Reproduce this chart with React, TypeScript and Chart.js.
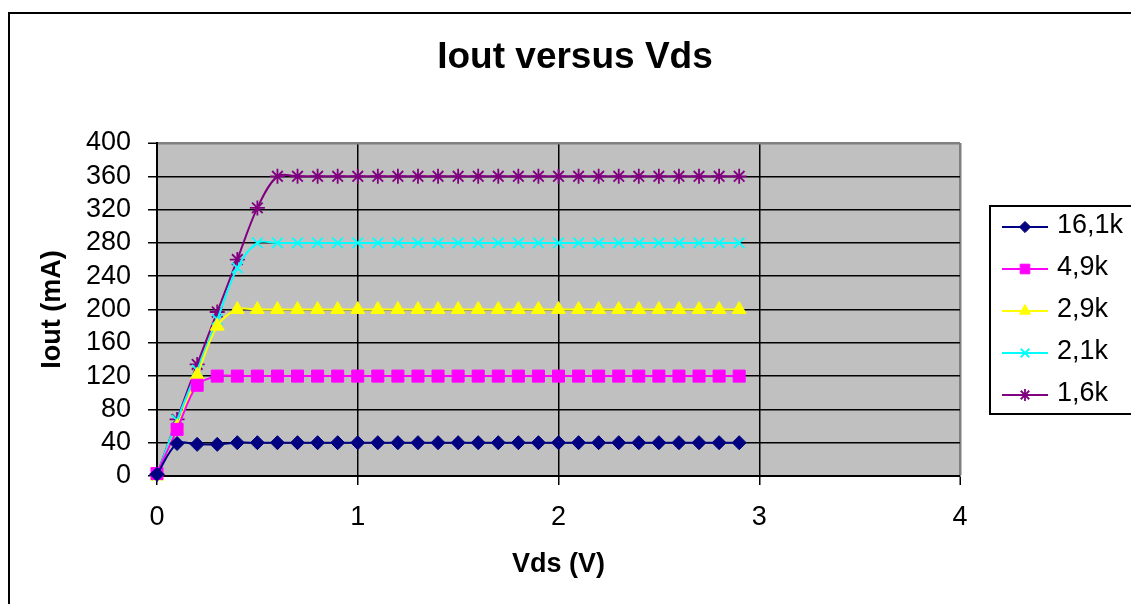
import React, { useEffect, useRef } from 'react';
import { Chart, registerables } from 'chart.js';
import { drawPoint } from 'chart.js/helpers';

Chart.register(...registerables);

const FONT = "'Liberation Sans', Arial, Helvetica, sans-serif";

// ---- data ----
const chartTitle = 'Iout versus Vds';
const vds = [0, 0.1, 0.2, 0.3, 0.4, 0.5, 0.6, 0.7, 0.8, 0.9, 1.0, 1.1, 1.2, 1.3, 1.4, 1.5, 1.6, 1.7, 1.8, 1.9, 2.0, 2.1, 2.2, 2.3, 2.4, 2.5, 2.6, 2.7, 2.8, 2.9];
const seriesLabels = ['16,1k', '4,9k', '2,9k', '2,1k', '1,6k'];
const iout16_1k = [2, 39, 38, 38, 40, 40, 40, 40, 40, 40, 40, 40, 40, 40, 40, 40, 40, 40, 40, 40, 40, 40, 40, 40, 40, 40, 40, 40, 40, 40];
const iout4_9k = [3, 56, 109, 120, 120, 120, 120, 120, 120, 120, 120, 120, 120, 120, 120, 120, 120, 120, 120, 120, 120, 120, 120, 120, 120, 120, 120, 120, 120, 120];
const iout2_9k = [0, 59, 121, 180, 200, 200, 200, 200, 200, 200, 200, 200, 200, 200, 200, 200, 200, 200, 200, 200, 200, 200, 200, 200, 200, 200, 200, 200, 200, 200];
const iout2_1k = [1, 67, 127, 188, 250, 280, 280, 280, 280, 280, 280, 280, 280, 280, 280, 280, 280, 280, 280, 280, 280, 280, 280, 280, 280, 280, 280, 280, 280, 280];
const iout1_6k = [2, 68, 134, 197, 260, 322, 360, 360, 360, 360, 360, 360, 360, 360, 360, 360, 360, 360, 360, 360, 360, 360, 360, 360, 360, 360, 360, 360, 360, 360];
const seriesValues = [iout16_1k, iout4_9k, iout2_9k, iout2_1k, iout1_6k];
const xTicks = [0, 1, 2, 3, 4];
const yTicks = [0, 40, 80, 120, 160, 200, 240, 280, 320, 360, 400];

// ---- styles ----
const STYLES = [
  { color: '#000080', marker: 'rectRot', radius: 7, bw: 1 },
  { color: '#FF00FF', marker: 'rect', radius: 8.5, bw: 1 },
  { color: '#FFFF00', marker: 'triangle', radius: 8, bw: 1 },
  { color: '#00FFFF', marker: 'crossRot', radius: 7.5, bw: 1.8 },
  { color: '#800080', marker: 'star', radius: 7.5, bw: 1.8 },
];

const bgPlugin = {
  id: 'plotBg',
  beforeDraw(chart: any) {
    const { ctx, chartArea: a } = chart;
    ctx.save();
    ctx.fillStyle = '#FFFFFF';
    ctx.fillRect(0, 0, chart.width, chart.height);
    ctx.fillStyle = '#C0C0C0';
    ctx.fillRect(a.left, a.top, a.right - a.left, a.bottom - a.top);
    ctx.restore();
  },
};

const framePlugin = {
  id: 'frameLegend',
  afterDraw(chart: any) {
    const { ctx } = chart;
    ctx.save();
    // title
    ctx.fillStyle = '#000';
    ctx.font = `bold 37px ${FONT}`;
    ctx.textAlign = 'center';
    ctx.textBaseline = 'middle';
    ctx.fillText(chartTitle, 575, 58);
    // outer frame
    ctx.strokeStyle = '#000';
    ctx.lineWidth = 2;
    ctx.strokeRect(9, 13, 1400, 900);
    // legend box
    ctx.strokeRect(990, 206, 400, 208);
    const rowY0 = 227;
    const rowStep = 42;
    chart.data.datasets.forEach((ds: any, i: number) => {
      const y = rowY0 + i * rowStep;
      const st = STYLES[i];
      ctx.strokeStyle = st.color;
      ctx.fillStyle = st.color;
      ctx.lineWidth = 2;
      ctx.beginPath();
      ctx.moveTo(1002, y);
      ctx.lineTo(1048, y);
      ctx.stroke();
      ctx.lineWidth = st.bw;
      drawPoint(ctx, { pointStyle: st.marker, radius: st.radius * 0.8, rotation: 0, borderWidth: st.bw } as any, 1025, y);
      ctx.fillStyle = '#000';
      ctx.font = `27px ${FONT}`;
      ctx.textAlign = 'left';
      ctx.textBaseline = 'middle';
      ctx.fillText(ds.label, 1057, y - 1);
    });
    ctx.restore();
  },
};

export default function App() {
  const ref = useRef<HTMLCanvasElement | null>(null);

  useEffect(() => {
    if (!ref.current) return;
    const datasets = seriesLabels.map((label, i) => ({
      label,
      data: vds.map((x, j) => ({ x, y: seriesValues[i][j] })),
      borderColor: STYLES[i].color,
      backgroundColor: STYLES[i].color,
      borderWidth: 2,
      pointStyle: STYLES[i].marker,
      pointRadius: STYLES[i].radius,
      pointBorderWidth: STYLES[i].bw,
      pointBorderColor: STYLES[i].color,
      pointBackgroundColor: STYLES[i].color,
      tension: 0.33,
      clip: 12,
    }));

    const tickFont = { family: FONT, size: 27 };
    const chart = new Chart(ref.current, {
      type: 'line',
      data: { datasets } as any,
      options: {
        animation: false,
        responsive: false,
        devicePixelRatio: 1,
        layout: { padding: { left: 0, right: 171, top: 143, bottom: 0 } },
        plugins: {
          legend: { display: false },
          tooltip: { enabled: false },
          title: { display: false },
        },
        scales: {
          x: {
            type: 'linear',
            min: 0,
            max: 4,
            afterBuildTicks: (s: any) => { s.ticks = xTicks.map((v) => ({ value: v })); },
            ticks: { color: '#000', font: tickFont, padding: 16, maxRotation: 0, autoSkip: false },
            grid: {
              color: (c: any) => (c.tick && c.tick.value === 4 ? '#808080' : '#000'),
              lineWidth: (c: any) => (c.tick && c.tick.value === 4 ? 2.5 : 1.5),
              tickColor: '#000',
              tickLength: 9,
              tickWidth: 1.5,
            },
            border: { color: '#000', width: 2 },
            title: {
              display: true,
              text: 'Vds (V)',
              color: '#000',
              font: { family: FONT, size: 27, weight: 'bold' },
              padding: { top: 0, bottom: 23 },
            },
            afterFit: (s: any) => { s.height = 128; },
          },
          y: {
            type: 'linear',
            min: 0,
            max: 400,
            afterBuildTicks: (s: any) => { s.ticks = yTicks.map((v) => ({ value: v })); },
            ticks: { color: '#000', font: tickFont, padding: 17, autoSkip: false },
            grid: {
              color: (c: any) => (c.tick && c.tick.value === 400 ? '#808080' : '#000'),
              lineWidth: (c: any) => (c.tick && c.tick.value === 400 ? 2.5 : 1.5),
              tickColor: '#000',
              tickLength: 9,
              tickWidth: 1.5,
            },
            border: { color: '#000', width: 2 },
            title: {
              display: true,
              text: 'Iout (mA)',
              color: '#000',
              font: { family: FONT, size: 27, weight: 'bold' },
              padding: { top: 36, bottom: 0 },
            },
            afterFit: (s: any) => { s.width = 157; },
          },
        },
      } as any,
      plugins: [bgPlugin, framePlugin],
    });
    return () => chart.destroy();
  }, []);

  return (
    <div style={{ position: 'fixed', left: 0, top: 0, width: 1131, height: 604, background: '#fff' }}>
      <canvas ref={ref} width={1131} height={604} style={{ width: 1131, height: 604, display: 'block' }} />
    </div>
  );
}
